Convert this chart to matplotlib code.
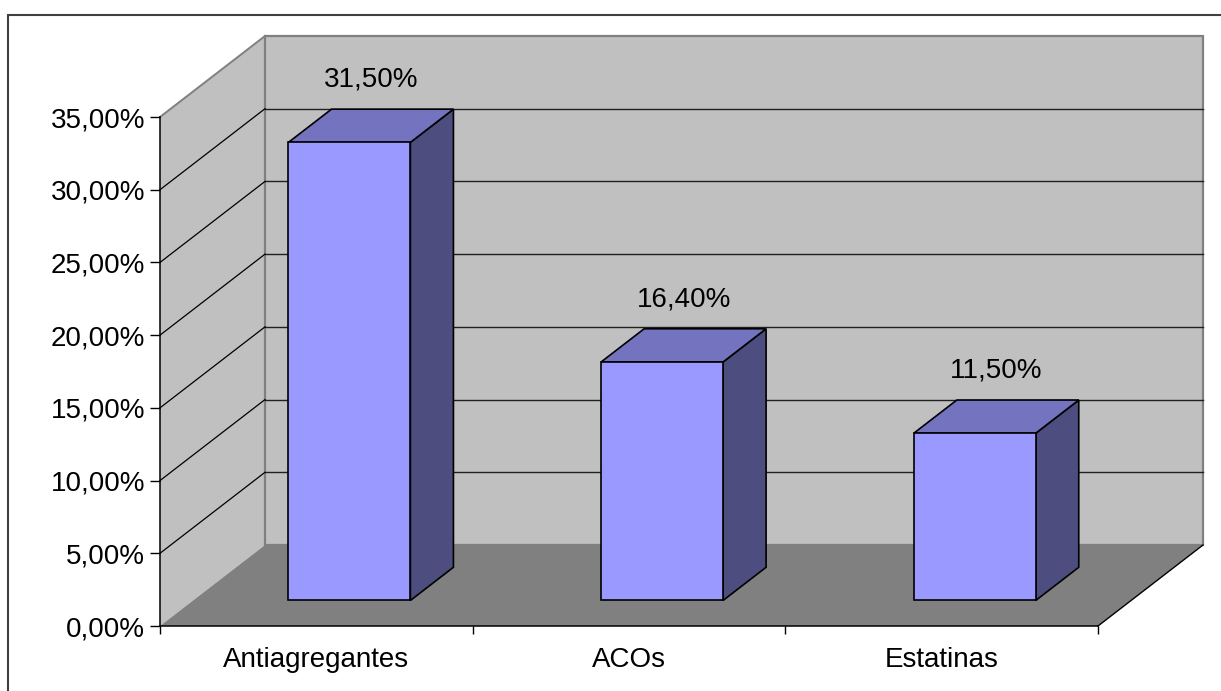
import matplotlib.pyplot as plt
from matplotlib.patches import Polygon, Rectangle

plt.rcParams['font.family'] = ['Liberation Sans', 'DejaVu Sans']

# datos
categorias = ['Antiagregantes', 'ACOs', 'Estatinas']
porcentajes = [31.5, 16.4, 11.5]
etiquetas = ['31,50%', '16,40%', '11,50%']
yticks = [0, 5, 10, 15, 20, 25, 30, 35]
ytick_labels = ['0,00%', '5,00%', '10,00%', '15,00%', '20,00%', '25,00%', '30,00%', '35,00%']

W, H = 1221, 691
fig = plt.figure(figsize=(W / 100, H / 100), dpi=100)
ax = fig.add_axes([0, 0, 1, 1])

# escala en pixeles del plano frontal
px_cat = (1098 - 160) / 3
px_pct = (626 - 117) / 35
ax.set_xlim(-160 / px_cat, (W - 160) / px_cat)
ax.set_ylim(-(H - 626) / px_pct, 626 / px_pct)
ax.axis('off')

# profundidad (perspectiva oblicua)
DX = 105 / px_cat
DY = 81 / px_pct
ncat = len(categorias)
ymax = yticks[-1]


def proj(x, y, z):
    return (x + z * DX, y + z * DY)


def poly(pts, **kw):
    ax.add_patch(Polygon([proj(*p) for p in pts], closed=True, **kw))


def seg(p1, p2, **kw):
    a, b = proj(*p1), proj(*p2)
    ax.plot([a[0], b[0]], [a[1], b[1]], **kw)


# paredes y suelo
poly([(0, 0, 0), (0, 0, 1), (0, ymax, 1), (0, ymax, 0)], fc='#C0C0C0', ec='none', zorder=1)
poly([(0, 0, 1), (ncat, 0, 1), (ncat, ymax, 1), (0, ymax, 1)], fc='#C0C0C0', ec='#808080', lw=1.6, zorder=1)
poly([(0, 0, 0), (ncat, 0, 0), (ncat, 0, 1), (0, 0, 1)], fc='#808080', ec='none', zorder=2)
seg((0, ymax, 0), (0, ymax, 1), color='#808080', lw=1.4, zorder=2)
seg((ncat, 0, 0), (ncat, 0, 1), color='black', lw=1.0, zorder=3)

# lineas de division
for v in yticks[1:-1]:
    seg((0, v, 1), (ncat, v, 1), color='#202020', lw=1.0, zorder=2)
    seg((0, v, 0), (0, v, 1), color='black', lw=0.9, zorder=2)

# ejes
ax.plot([0, 0], [0, ymax], color='black', lw=1.1, zorder=3)
ax.plot([0, ncat], [0, 0], color='black', lw=1.1, zorder=3)
ax.plot([0] * len(yticks), yticks, ls='', marker=0, ms=7.5, mew=1.0, color='black', zorder=3)
ax.plot(range(ncat + 1), [0] * (ncat + 1), ls='', marker=3, ms=6, mew=1.0, color='black', zorder=3)

for v, lab in zip(yticks, ytick_labels):
    ax.annotate(lab, (0, v), xytext=(-10.8, -7.3), textcoords='offset points',
                ha='right', va='baseline', fontsize=20)

for i, cat in enumerate(categorias):
    ax.annotate(cat, (i + 0.5, 0), xytext=(0, -29.5), textcoords='offset points',
                ha='center', va='baseline', fontsize=20)

# barras 3D
ancho = 0.39
z0, z1 = 0.315, 0.725
for i, (v, lab) in enumerate(zip(porcentajes, etiquetas)):
    xl = i + 0.5 - ancho / 2
    xr = i + 0.5 + ancho / 2
    kw = dict(ec='black', lw=1.2, joinstyle='miter', zorder=5)
    poly([(xr, 0, z0), (xr, 0, z1), (xr, v, z1), (xr, v, z0)], fc='#4D4D80', **kw)
    poly([(xl, v, z0), (xr, v, z0), (xr, v, z1), (xl, v, z1)], fc='#7373BF', **kw)
    poly([(xl, 0, z0), (xr, 0, z0), (xr, v, z0), (xl, v, z0)], fc='#9999FF', **kw)
    # etiqueta centrada sobre la barra, por encima de la cara superior
    lx = proj(i + 0.5, v, (z0 + z1) / 2)[0]
    ly = proj(i + 0.5, v, z1)[1]
    ax.annotate(lab, (lx, ly), xytext=(0, 16), textcoords='offset points',
                ha='center', va='baseline', fontsize=20, zorder=6)

# marco exterior
fig.patches.append(Rectangle((8 / W, -0.1), 1.2, 1 - 15 / H + 0.1, transform=fig.transFigure,
                             fill=False, ec='#404040', lw=1.5))

fig.savefig('out.png', dpi=100, facecolor='white')
